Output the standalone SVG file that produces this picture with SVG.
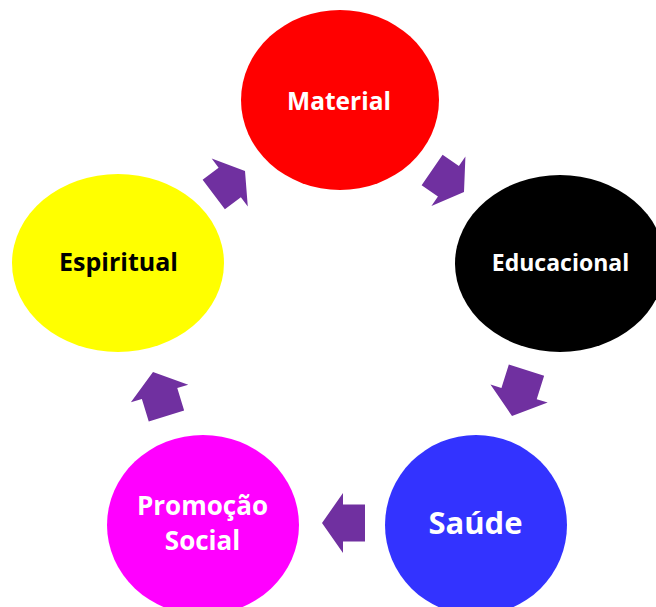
<svg xmlns="http://www.w3.org/2000/svg" xmlns:xlink="http://www.w3.org/1999/xlink" width="656" height="607" viewBox="0 0 656 607">
  <style>
    .lbl { font-family: "Open Sans", "Noto Sans", "Liberation Sans", sans-serif; font-weight: bold; text-anchor: middle; }
    .arrow { fill: #7030A0; }
  </style>
  <defs>
    <polygon id="blockArrow" points="0,0 -21,-30 -21,-18.5 -43,-18.5 -43,18.5 -21,18.5 -21,30"/>
  </defs>
  <rect width="656" height="607" fill="#FFFFFF"/>
  <g id="connectors" class="arrow">
    <use xlink:href="#blockArrow" href="#blockArrow" transform="translate(464,192) rotate(34.5) scale(0.9,1)"/>
    <use xlink:href="#blockArrow" href="#blockArrow" transform="translate(512,416) rotate(107.5) scale(1.12,1)"/>
    <use xlink:href="#blockArrow" href="#blockArrow" transform="translate(322,523) rotate(180)"/>
    <use xlink:href="#blockArrow" href="#blockArrow" transform="translate(153,372) rotate(-107) scale(1.07,1)"/>
    <use xlink:href="#blockArrow" href="#blockArrow" transform="translate(245,171) rotate(-37) scale(0.91,1)"/>
  </g>
  <g id="material">
    <ellipse cx="340" cy="100" rx="99" ry="90" fill="#FF0000"/>
    <text class="lbl" x="339" y="109.5" font-size="24.5" fill="#FFFFFF">Material</text>
  </g>
  <g id="educacional">
    <ellipse cx="560" cy="263.5" rx="105" ry="88.5" fill="#000000"/>
    <text class="lbl" x="560.5" y="271" font-size="23" fill="#FFFFFF">Educacional</text>
  </g>
  <g id="saude">
    <ellipse cx="476" cy="525" rx="91" ry="90" fill="#3333FF"/>
    <text class="lbl" x="475.5" y="534" font-size="31" fill="#FFFFFF">Saúde</text>
  </g>
  <g id="promocao-social">
    <ellipse cx="203" cy="525" rx="96" ry="90" fill="#FF00FF"/>
    <text class="lbl" x="202.5" y="515" font-size="26" fill="#FFFFFF">Promoção</text>
    <text class="lbl" x="202.5" y="549.5" font-size="26" fill="#FFFFFF">Social</text>
  </g>
  <g id="espiritual">
    <ellipse cx="118" cy="263" rx="106" ry="89" fill="#FFFF00"/>
    <text class="lbl" x="118.5" y="270.7" font-size="25" fill="#000000">Espiritual</text>
  </g>
</svg>
